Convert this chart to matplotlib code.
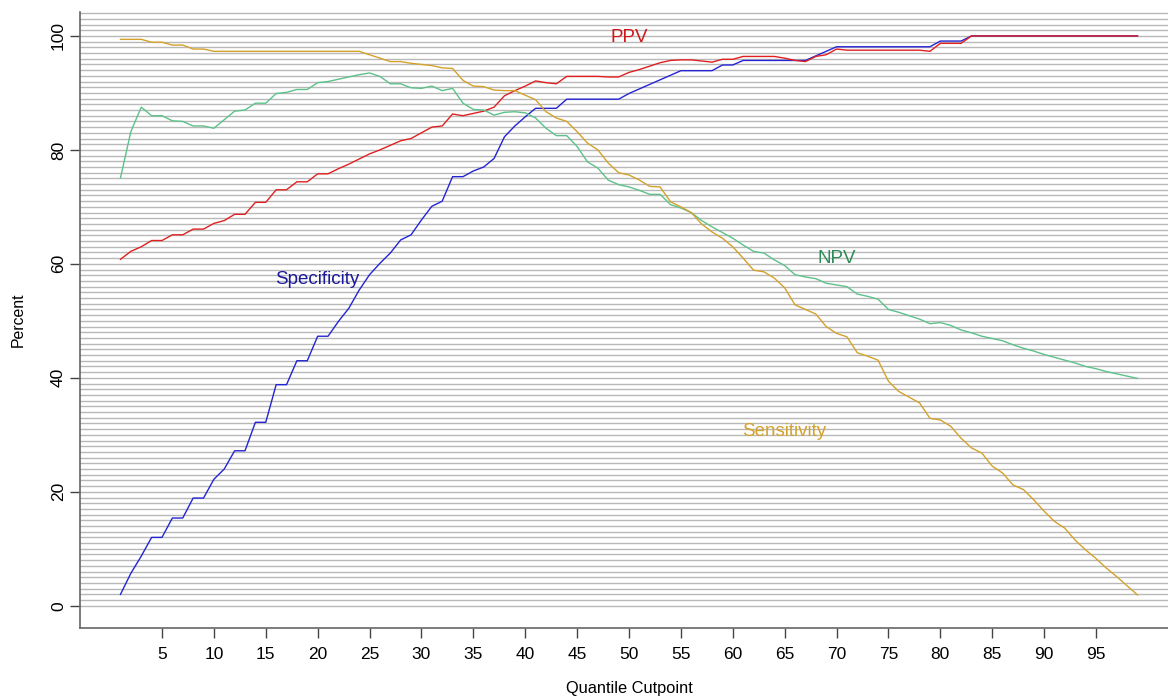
import numpy as np
import matplotlib
matplotlib.use("Agg")
from matplotlib import pyplot as plt

plt.rcParams['font.family'] = ['Liberation Sans', 'DejaVu Sans']

# quantile cutpoints 1..99
cutpoint = list(range(1, 100))

specificity = [2.0, 5.7, 8.7, 12.0, 12.0, 15.4, 15.4, 18.9, 18.9, 22.2,
               24.0, 27.2, 27.2, 32.2, 32.2, 38.8, 38.8, 43.0, 43.0, 47.3,
               47.3, 49.9, 52.2, 55.4, 58.1, 60.1, 61.9, 64.2, 65.1, 67.7,
               70.1, 71.0, 75.3, 75.3, 76.3, 77.0, 78.5, 82.3, 84.2, 85.8,
               87.3, 87.3, 87.3, 88.9, 88.9, 88.9, 88.9, 88.9, 88.9, 89.9,
               90.7, 91.5, 92.3, 93.1, 93.9, 93.9, 93.9, 93.9, 94.9, 94.9,
               95.7, 95.7, 95.7, 95.7, 95.7, 95.7, 95.7, 96.5, 97.3, 98.1,
               98.1, 98.1, 98.1, 98.1, 98.1, 98.1, 98.1, 98.1, 98.1, 99.1,
               99.1, 99.1, 100, 100, 100, 100, 100, 100, 100, 100,
               100, 100, 100, 100, 100, 100, 100, 100, 100]

ppv = [60.8, 62.2, 63.0, 64.1, 64.1, 65.1, 65.1, 66.1, 66.1, 67.1,
       67.6, 68.7, 68.7, 70.8, 70.8, 73.0, 73.0, 74.4, 74.4, 75.8,
       75.8, 76.7, 77.5, 78.4, 79.3, 80.0, 80.8, 81.6, 82.0, 83.0,
       84.0, 84.2, 86.3, 86.0, 86.4, 86.8, 87.5, 89.5, 90.4, 91.2,
       92.1, 91.8, 91.6, 92.9, 92.9, 92.9, 92.9, 92.8, 92.8, 93.6,
       94.1, 94.7, 95.3, 95.7, 95.8, 95.8, 95.6, 95.4, 95.9, 95.9,
       96.4, 96.4, 96.4, 96.4, 96.1, 95.7, 95.5, 96.4, 96.7, 97.7,
       97.5, 97.5, 97.5, 97.5, 97.5, 97.5, 97.5, 97.5, 97.3, 98.7,
       98.7, 98.7, 100, 100, 100, 100, 100, 100, 100, 100,
       100, 100, 100, 100, 100, 100, 100, 100, 100]

sensitivity = [99.4, 99.4, 99.4, 98.9, 98.9, 98.4, 98.4, 97.7, 97.7, 97.3,
               97.3, 97.3, 97.3, 97.3, 97.3, 97.3, 97.3, 97.3, 97.3, 97.3,
               97.3, 97.3, 97.3, 97.3, 96.7, 96.1, 95.5, 95.5, 95.2, 95.0,
               94.8, 94.4, 94.3, 92.2, 91.2, 91.1, 90.5, 90.4, 90.4, 89.6,
               88.8, 86.7, 85.6, 85.0, 83.2, 81.2, 80.0, 77.7, 76.0, 75.6,
               74.7, 73.6, 73.5, 70.9, 70.0, 69.0, 67.0, 65.6, 64.5, 63.0,
               61.0, 58.9, 58.6, 57.5, 55.8, 52.8, 52.0, 51.2, 49.0, 47.8,
               47.2, 44.4, 43.8, 43.1, 39.4, 37.6, 36.6, 35.6, 32.9, 32.6,
               31.5, 29.4, 27.7, 26.8, 24.5, 23.3, 21.2, 20.4, 18.6, 16.6,
               14.8, 13.6, 11.5, 9.8, 8.3, 6.6, 5.1, 3.5, 1.9]

npv = [75.1, 83.2, 87.5, 86.0, 86.0, 85.1, 85.0, 84.2, 84.2, 83.8,
       85.3, 86.8, 87.0, 88.2, 88.2, 89.9, 90.1, 90.6, 90.6, 91.8,
       92.0, 92.4, 92.8, 93.2, 93.5, 92.9, 91.6, 91.6, 90.9, 90.8,
       91.2, 90.4, 90.8, 88.2, 87.1, 87.0, 86.1, 86.6, 86.7, 86.5,
       85.6, 83.8, 82.5, 82.5, 80.6, 77.9, 76.8, 74.7, 73.9, 73.5,
       72.9, 72.2, 72.2, 70.4, 69.8, 69.0, 67.6, 66.5, 65.5, 64.5,
       63.3, 62.2, 61.9, 60.7, 59.7, 58.1, 57.7, 57.4, 56.6, 56.3,
       56.0, 54.7, 54.3, 53.8, 52.0, 51.5, 50.9, 50.3, 49.5, 49.7,
       49.2, 48.4, 47.9, 47.3, 46.9, 46.5, 45.8, 45.2, 44.7, 44.1,
       43.6, 43.1, 42.6, 42.0, 41.6, 41.1, 40.7, 40.3, 39.9]

xticks = list(range(5, 100, 5))
yticks = [0, 20, 40, 60, 80, 100]

fig = plt.figure(figsize=(11.68, 6.96), dpi=100)
ax = fig.add_axes([80/1168, 68/696, 1098/1168, 616/696])

# dense horizontal grid, one line per percent
for g in range(0, 105):
    ax.axhline(g, color='#b8b8b8', lw=1.0, zorder=0)

ax.plot(cutpoint, specificity, color='#2424d4', lw=1.0)
ax.plot(cutpoint, ppv, color='#e02020', lw=1.0)
ax.plot(cutpoint, npv, color='#5cc28a', lw=1.0)
ax.plot(cutpoint, sensitivity, color='#d4a22a', lw=1.0)

ax.text(50, 99.7, 'PPV', color='#d01818', fontsize=13.5, ha='center', va='center')
ax.text(70, 61, 'NPV', color='#2e8b57', fontsize=13.5, ha='center', va='center')
ax.text(20, 57.2, 'Specificity', color='#1a1a9a', fontsize=13.5, ha='center', va='center')
ax.text(65, 30.5, 'Sensitivity', color='#d4a22a', fontsize=13.5, ha='center', va='center')

ax.set_xlim(-2.9, 102.9)
ax.set_ylim(-3.9, 104.2)
ax.set_xticks(xticks)
ax.set_yticks(yticks)
ax.set_yticklabels([str(v) for v in yticks], rotation=90, va='center')
ax.tick_params(direction='out', length=7, width=1, color='#444444', labelsize=12.5)
ax.tick_params(axis='y', pad=3)
ax.tick_params(axis='x', pad=7)

for s in ['top', 'right']:
    ax.spines[s].set_visible(False)
for s in ['left', 'bottom']:
    ax.spines[s].set_color('#666666')
    ax.spines[s].set_linewidth(1.2)

fig.text(629/1168, 1 - 689/696, 'Quantile Cutpoint', ha='center', va='center', fontsize=11.8)
fig.text(18/1168, 1 - 320/696, 'Percent', ha='center', va='center', fontsize=11.4, rotation=90)

fig.savefig('out.png', dpi=100)
